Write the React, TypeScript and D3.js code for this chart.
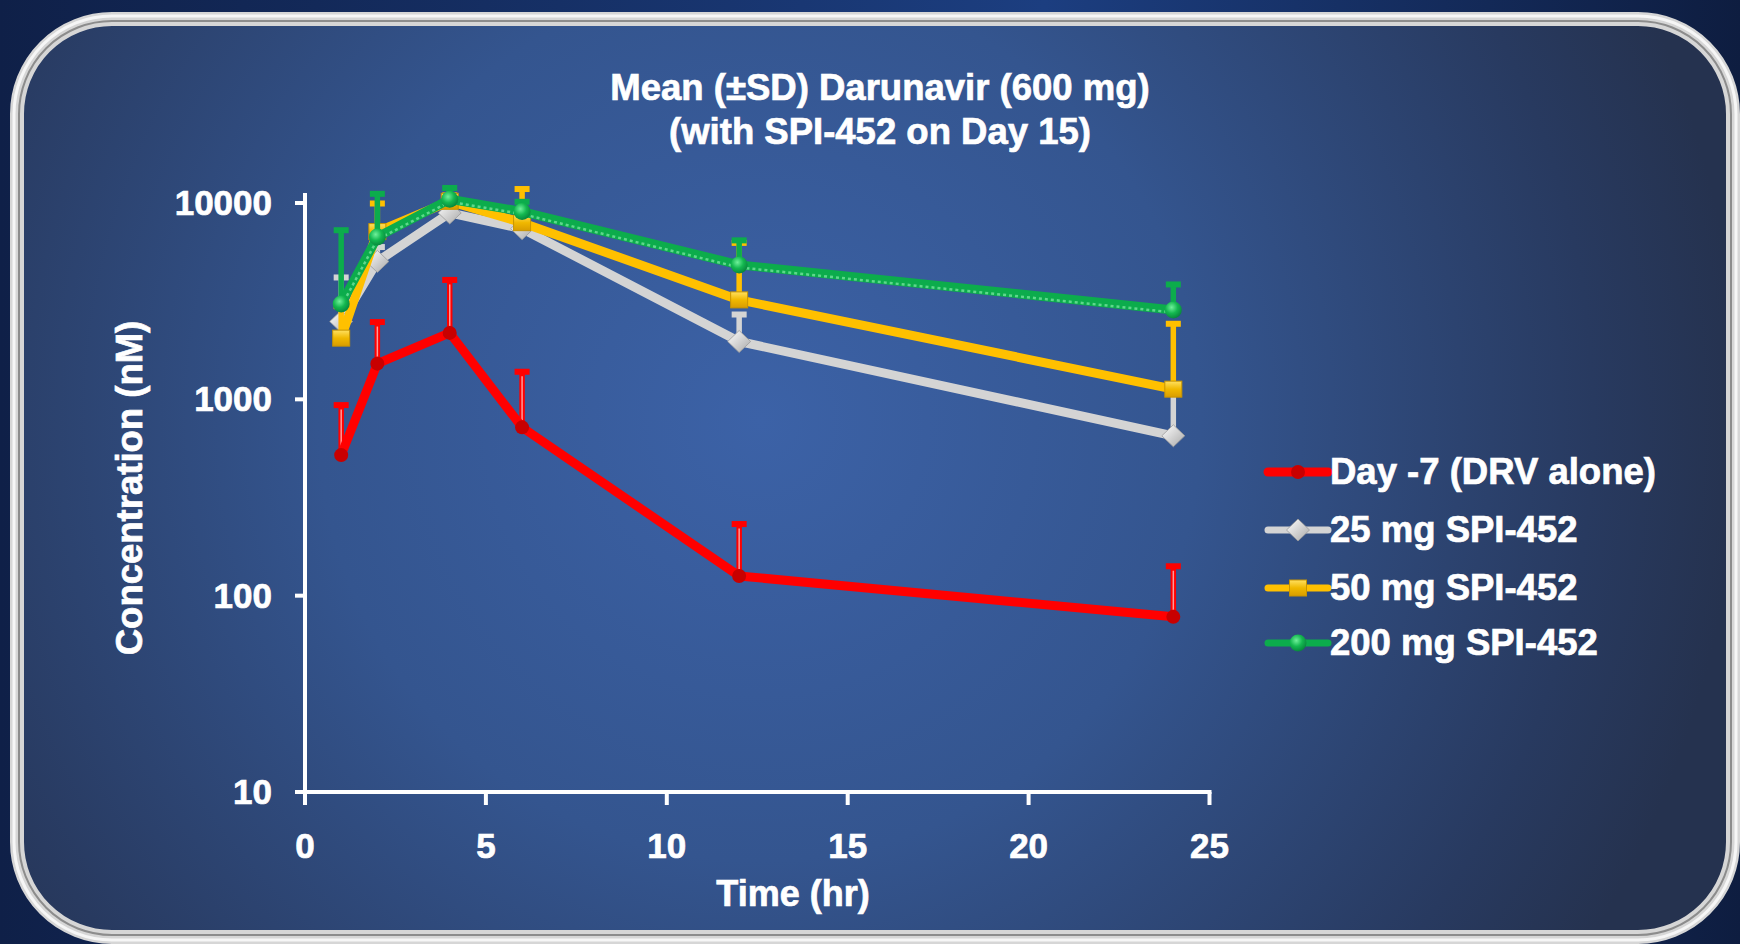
import React from "react";
import * as d3 from "d3";

// sampling times (hr)
const times = [1, 2, 4, 6, 12, 24];

// mean concentrations (nM) and +SD
const drvAlone = [520, 1520, 2180, 720, 126, 78];
const drvAloneSd = [420, 970, 1900, 670, 107, 64];
const spi25 = [2490, 5040, 8900, 7400, 1970, 652];
const spi25Sd = [1710, 960, 1100, 900, 750, 500];
const spi50 = [2050, 7150, 10200, 7940, 3210, 1127];
const spi50Sd = [950, 2850, 800, 3910, 3090, 1313];
const spi200 = [3060, 6710, 10450, 9050, 4840, 2853];
const spi200Sd = [4250, 4490, 1550, 1150, 1650, 1017];

const seriesNames = ["Day -7 (DRV alone)", "25 mg SPI-452", "50 mg SPI-452", "200 mg SPI-452"];
const xTicks = [0, 5, 10, 15, 20, 25];
const yTicks = [10, 100, 1000, 10000];

const titleLines = ["Mean (\u00b1SD) Darunavir (600 mg)", "(with SPI-452 on Day 15)"];

const W = 1740;
const H = 944;
const font = "'Liberation Sans', Arial, sans-serif";

type Marker = "dot" | "diamond" | "square" | "circle";

const series = [
  { name: seriesNames[0], mean: drvAlone, sd: drvAloneSd, color: "#ff0000", marker: "dot" as Marker },
  { name: seriesNames[1], mean: spi25, sd: spi25Sd, color: "#d4d4d4", marker: "diamond" as Marker },
  { name: seriesNames[2], mean: spi50, sd: spi50Sd, color: "#ffc000", marker: "square" as Marker },
  { name: seriesNames[3], mean: spi200, sd: spi200Sd, color: "#0cac4c", marker: "circle" as Marker },
];

const x = d3.scaleLinear().domain([0, 25]).range([305, 1209.5]);
const y = d3.scaleLog().domain([10, 10000]).range([792, 203]);

function MarkerShape({ type, cx, cy }: { type: Marker; cx: number; cy: number }) {
  if (type === "dot") return <circle cx={cx} cy={cy} r={7} fill="#c80000" />;
  if (type === "diamond")
    return (
      <path
        d={`M${cx},${cy - 11}L${cx + 11.5},${cy}L${cx},${cy + 11}L${cx - 11.5},${cy}Z`}
        fill="url(#gDiamond)"
        stroke="#9a9a9a"
        strokeWidth={0.8}
      />
    );
  if (type === "square")
    return <rect x={cx - 8.5} y={cy - 8} width={17} height={16} fill="url(#gSquare)" stroke="#c89400" strokeWidth={1} />;
  return <circle cx={cx} cy={cy} r={8.5} fill="url(#gCircle)" />;
}

export default function App() {
  const line = d3
    .line<number>()
    .x((_, i) => x(times[i]))
    .y((d) => y(d));

  const legendX = 1268;
  const legendRows = [472, 530, 588, 643];
  const txt = { fill: "#fff", fontWeight: "bold", stroke: "#fff", strokeWidth: 0.7 } as const;

  return (
    <>
      <style>{`body{margin:0;}`}</style>
      <svg width={W} height={H} style={{ display: "block" }} fontFamily={font}>
        <defs>
          <linearGradient id="gOuter" x1="0" y1="0" x2="1" y2="0">
            <stop offset="0" stopColor="#0f2048" />
            <stop offset="0.6" stopColor="#1c3e80" />
            <stop offset="1" stopColor="#0e1d40" />
          </linearGradient>
          <radialGradient id="gPanel" cx="760" cy="420" r="980" gradientUnits="userSpaceOnUse">
            <stop offset="0" stopColor="#3c62a7" />
            <stop offset="0.45" stopColor="#34558f" />
            <stop offset="0.85" stopColor="#283a60" />
            <stop offset="1" stopColor="#25324f" />
          </radialGradient>
          <linearGradient id="gDiamond" x1="0" y1="0" x2="1" y2="1">
            <stop offset="0" stopColor="#ffffff" />
            <stop offset="1" stopColor="#a8a8a8" />
          </linearGradient>
          <linearGradient id="gSquare" x1="0" y1="0" x2="0" y2="1">
            <stop offset="0" stopColor="#ffe060" />
            <stop offset="0.5" stopColor="#f0b800" />
            <stop offset="1" stopColor="#d89c00" />
          </linearGradient>
          <radialGradient id="gCircle" cx="0.4" cy="0.35" r="0.7">
            <stop offset="0" stopColor="#6ff09a" />
            <stop offset="0.5" stopColor="#14b850" />
            <stop offset="1" stopColor="#06803a" />
          </radialGradient>
        </defs>

        {/* background and framed panel */}
        <rect x={0} y={0} width={W} height={H} fill="url(#gOuter)" />
        <rect x={17} y={19} width={1716} height={918} rx={95} ry={95} fill="url(#gPanel)" />
        <rect x={17} y={19} width={1716} height={918} rx={95} ry={95} fill="none" stroke="#d6d6d6" strokeWidth={14} />
        <rect x={19} y={21} width={1712} height={914} rx={93} ry={93} fill="none" stroke="#8c8c8c" strokeWidth={2} />
        <rect x={14} y={16} width={1722} height={924} rx={98} ry={98} fill="none" stroke="#f6f6f6" strokeWidth={3} />

        {/* title */}
        {titleLines.map((t, i) => (
          <text key={t} x={880} y={100 + i * 44} textAnchor="middle" fontSize={36.5} {...txt}>
            {t}
          </text>
        ))}

        {/* axes */}
        <g stroke="#fff" strokeWidth={4} fill="none">
          <line x1={x(0)} x2={x(0)} y1={y(10000) - 10} y2={y(10) + 2} />
          <line x1={x(0) - 10} x2={x(25) + 2} y1={y(10)} y2={y(10)} />
          {yTicks.map((t) => (
            <line key={t} x1={x(0) - 10} x2={x(0)} y1={y(t)} y2={y(t)} />
          ))}
          {xTicks.map((t) => (
            <line key={t} x1={x(t)} x2={x(t)} y1={y(10)} y2={y(10) + 13} />
          ))}
        </g>
        {yTicks.map((t) => (
          <text key={t} x={272} y={y(t) + 12} textAnchor="end" fontSize={35} {...txt}>
            {t}
          </text>
        ))}
        {xTicks.map((t) => (
          <text key={t} x={x(t)} y={858} textAnchor="middle" fontSize={35} {...txt}>
            {t}
          </text>
        ))}
        <text x={793} y={906} textAnchor="middle" fontSize={36} {...txt}>
          Time (hr)
        </text>
        <text transform={`translate(142,488) rotate(-90)`} textAnchor="middle" fontSize={36.5} {...txt}>
          Concentration (nM)
        </text>

        {/* series: error bars, line, markers */}
        {series.map((s) => (
          <g key={s.name}>
            {s.mean.map((m, i) => {
              const cx = x(times[i]);
              const top = y(m + s.sd[i]);
              return (
                <g key={i}>
                  <line x1={cx} x2={cx} y1={y(m)} y2={top} stroke={s.color} strokeWidth={5.5} />
                  <rect x={cx - 7.5} y={top - 2.5} width={15} height={6} fill={s.color} />
                  {s.marker === "dot" && (
                    <line x1={cx} x2={cx} y1={y(m) - 7} y2={top + 5} stroke="#ff9a9a" strokeWidth={1.5} />
                  )}
                </g>
              );
            })}
            <path
              d={line(s.mean) ?? ""}
              fill="none"
              stroke={s.color}
              strokeWidth={s.marker === "dot" ? 9 : 9}
              strokeLinejoin="round"
            />
            {s.marker === "circle" && (
              <path
                d={line(s.mean) ?? ""}
                fill="none"
                stroke="#5ed88c"
                strokeWidth={2.5}
                strokeDasharray="3 3"
                transform="translate(0,2.5)"
              />
            )}
            {s.mean.map((m, i) => (
              <MarkerShape key={i} type={s.marker} cx={x(times[i])} cy={y(m)} />
            ))}
          </g>
        ))}

        {/* legend */}
        {series.map((s, i) => (
          <g key={s.name}>
            <line
              x1={legendX}
              x2={legendX + 60}
              y1={legendRows[i]}
              y2={legendRows[i]}
              stroke={s.color}
              strokeWidth={s.marker === "dot" ? 9 : 7}
              strokeLinecap="round"
            />
            <MarkerShape type={s.marker} cx={legendX + 30} cy={legendRows[i]} />
            <text x={legendX + 62} y={legendRows[i] + 12} fontSize={36.5} {...txt}>
              {s.name}
            </text>
          </g>
        ))}
      </svg>
    </>
  );
}
